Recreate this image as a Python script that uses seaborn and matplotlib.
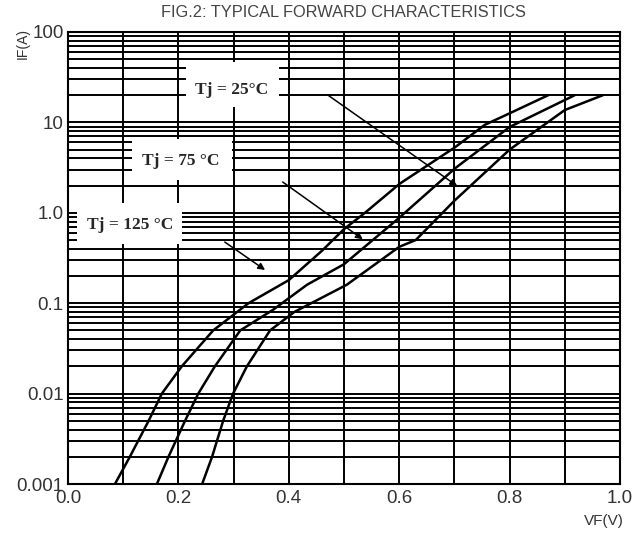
import numpy as np
import pandas as pd
import seaborn as sns
from matplotlib import pyplot as plt
from matplotlib.patches import Rectangle
from matplotlib.ticker import LogLocator, MultipleLocator, NullFormatter

# forward voltage (V) / forward current (A)
vf_125 = [0.085, 0.112, 0.146, 0.170, 0.206, 0.263, 0.327, 0.40, 0.46, 0.50, 0.538, 0.601, 0.701, 0.755, 0.80, 0.870]
if_125 = [0.001, 0.002, 0.005, 0.01, 0.02, 0.05, 0.1, 0.18, 0.38, 0.66, 1.0, 2.1, 5.3, 9.4, 12.6, 20]

vf_75 = [0.161, 0.182, 0.212, 0.236, 0.266, 0.312, 0.372, 0.433, 0.50, 0.60, 0.701, 0.80, 0.918]
if_75 = [0.001, 0.002, 0.005, 0.01, 0.02, 0.05, 0.085, 0.16, 0.27, 0.88, 3.1, 8.9, 20]

vf_25 = [0.243, 0.261, 0.281, 0.299, 0.324, 0.366, 0.41, 0.505, 0.60, 0.63, 0.70, 0.80, 0.90, 0.969]
if_25 = [0.001, 0.002, 0.005, 0.01, 0.02, 0.05, 0.08, 0.16, 0.42, 0.5, 1.36, 5.0, 13.7, 20]

y_ticks = [0.001, 0.01, 0.1, 1, 10, 100]
y_labels = ['0.001', '0.01', '0.1', '1.0', '10', '100']
x_ticks = [0.0, 0.2, 0.4, 0.6, 0.8, 1.0]
x_labels = ['0.0', '0.2', '0.4', '0.6', '0.8', '1.0']

df = pd.concat([
    pd.DataFrame({'VF': vf_125, 'IF': if_125, 'Tj': '125'}),
    pd.DataFrame({'VF': vf_75, 'IF': if_75, 'Tj': '75'}),
    pd.DataFrame({'VF': vf_25, 'IF': if_25, 'Tj': '25'}),
])

sns.set_style('white')
plt.rcParams['font.family'] = ['Liberation Sans', 'DejaVu Sans']

fig = plt.figure(figsize=(6.38, 5.35), dpi=100)
ax = fig.add_axes([0.1066, 0.0953, 0.8652, 0.8449])

sns.lineplot(data=df, x='VF', y='IF', units='Tj', estimator=None, sort=False,
             color='black', lw=1.8, ax=ax, zorder=5)

ax.set_yscale('log')
ax.set_xlim(0, 1.0)
ax.set_ylim(0.001, 100)

ax.set_xticks(x_ticks)
ax.set_xticklabels(x_labels)
ax.xaxis.set_minor_locator(MultipleLocator(0.1))
ax.set_yticks(y_ticks)
ax.set_yticklabels(y_labels)
ax.yaxis.set_minor_locator(LogLocator(base=10, subs=np.arange(2, 10), numticks=20))
ax.yaxis.set_minor_formatter(NullFormatter())

ax.grid(True, which='both', axis='both', color='black', lw=1.4)
ax.set_axisbelow(True)
ax.tick_params(which='both', length=0, labelsize=13.5, colors='#333333')
ax.tick_params(axis='x', pad=4)
ax.tick_params(axis='y', pad=3)
for s in ax.spines.values():
    s.set_color('black')
    s.set_linewidth(1.5)

ax.set_xlabel('')
ax.set_ylabel('')

# white label boxes knocking out the grid
boxes = [(0.214, 0.834, 0.168, 0.100), (0.116, 0.673, 0.181, 0.090), (0.016, 0.531, 0.191, 0.091)]
for bx, by, bw, bh in boxes:
    ax.add_patch(Rectangle((bx, by), bw, bh, transform=ax.transAxes, facecolor='white',
                           edgecolor='none', zorder=3))

serif = dict(family=['Liberation Serif', 'DejaVu Serif'], fontweight='bold', fontsize=12.5,
             ha='center', va='center', zorder=6, transform=ax.transAxes)
ax.text(0.297, 0.872, 'Tj = 25°C', **serif)
ax.text(0.205, 0.715, 'Tj = 75 °C', **serif)
ax.text(0.112, 0.573, 'Tj = 125 °C', **serif)

arrow = dict(arrowstyle='-|>', color='black', lw=1.1, mutation_scale=10, shrinkA=0, shrinkB=0)
ax.annotate('', xy=(0.705, 1.98), xytext=(0.471, 20), arrowprops=arrow, zorder=6)
ax.annotate('', xy=(0.534, 0.51), xytext=(0.389, 2.19), arrowprops=arrow, zorder=6)
ax.annotate('', xy=(0.357, 0.233), xytext=(0.284, 0.475), arrowprops=arrow, zorder=6)

fig.text(0.538, 0.977, 'FIG.2: TYPICAL FORWARD CHARACTERISTICS', ha='center', va='center',
         fontsize=11.8, color='#444444')
fig.text(0.036, 0.918, 'IF(A)', rotation=90, ha='center', va='center', fontsize=10, color='#333333')
fig.text(0.947, 0.026, 'VF(V)', ha='center', va='center', fontsize=11, color='#333333')

plt.savefig('out.png', dpi=100)
